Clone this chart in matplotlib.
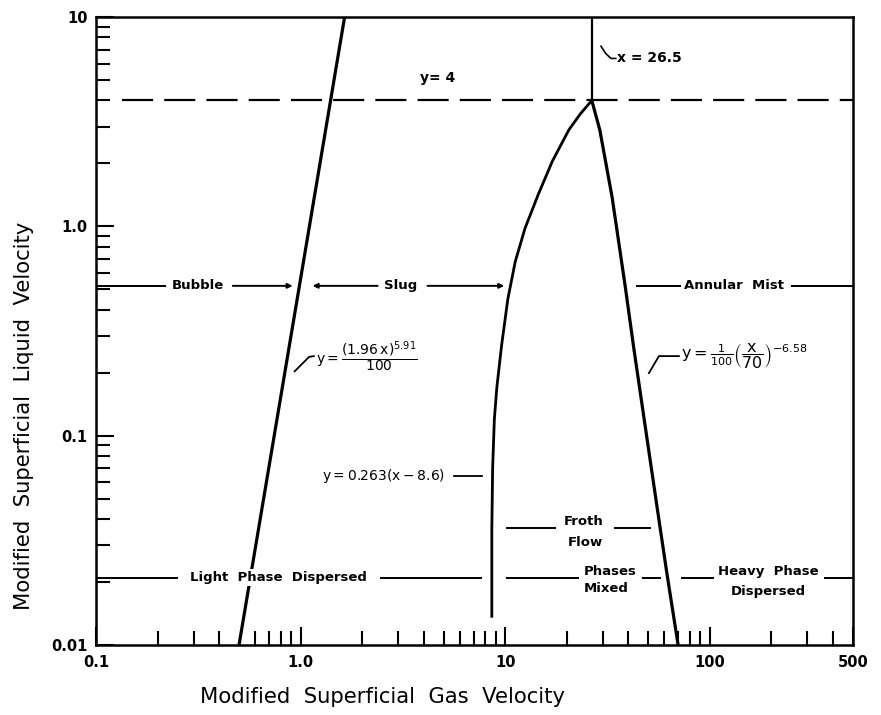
import matplotlib
matplotlib.use("Agg")
import matplotlib.pyplot as plt
from matplotlib.ticker import FixedLocator, FixedFormatter, NullFormatter

# Flow-regime boundaries (log-log coordinates)
bubble_x = [0.50, 1.64]
bubble_y = [0.01, 10.0]

froth_left_x = [8.6, 8.6, 8.68, 8.85, 9.1, 9.6, 10.3, 11.2, 12.5, 14.5, 17.0, 20.5, 23.3, 26.5]
froth_left_y = [0.0135, 0.035, 0.07, 0.12, 0.17, 0.27, 0.45, 0.68, 0.98, 1.42, 2.05, 2.9, 3.45, 4.0]

froth_right_x = [26.5, 29.0, 33.3, 38.5, 42.5, 48.8, 57.0, 62.0, 70.0]
froth_right_y = [4.0, 2.89, 1.38, 0.526, 0.262, 0.104, 0.037, 0.0213, 0.01]

x_split = 26.5          # vertical boundary above y = 4
y_top = 4.0             # dashed line
regime_y = 0.52         # Bubble / Slug / Annular Mist level
dispersed_y = 0.021     # Light / Heavy phase dispersed level
froth_y = 0.0364        # Froth Flow level

xticks = [0.1, 1.0, 10, 100, 500]
xtick_labels = ["0.1", "1.0", "10", "100", "500"]
xminor = [0.2, 0.3, 0.4, 0.6, 0.7, 0.8, 0.9, 2, 3, 4, 5, 6, 7, 8, 9,
          20, 30, 40, 50, 60, 70, 80, 90, 200, 300, 400]
yticks = [0.01, 0.1, 1.0, 10]
ytick_labels = ["0.01", "0.1", "1.0", "10"]
yminor = [m * d for d in (0.01, 0.1, 1.0) for m in range(2, 10)]

plt.rcParams["font.family"] = "DejaVu Sans"
plt.rcParams["mathtext.default"] = "regular"

fig = plt.figure(figsize=(8.81, 7.15), dpi=100)
ax = fig.add_axes([0.109, 0.098, 0.859, 0.878])
ax.set_xscale("log")
ax.set_yscale("log")
ax.set_xlim(0.1, 500)
ax.set_ylim(0.01, 10)

# boundary curves
ax.plot(bubble_x, bubble_y, color="k", lw=2.3, solid_capstyle="butt")
ax.plot(froth_left_x, froth_left_y, color="k", lw=2.0, solid_capstyle="butt")
ax.plot(froth_right_x, froth_right_y, color="k", lw=2.3, solid_capstyle="butt")
ax.plot([x_split, x_split], [y_top, 10], color="k", lw=1.6)
ax.plot([0.134, 500], [y_top, y_top], color="k", lw=1.6, ls=(0, (14, 5)))

LW = 1.4


def seg(x0, x1, y):
    ax.plot([x0, x1], [y, y], color="k", lw=LW, solid_capstyle="butt")


def arrow(x0, x1, y):
    ax.annotate("", xy=(x1, y), xytext=(x0, y),
                arrowprops=dict(arrowstyle="-|>", lw=LW, color="k",
                                mutation_scale=7, shrinkA=0, shrinkB=0))


lab = dict(fontsize=9.5, fontweight="bold", ha="center", va="center")

# upper regime line
seg(0.1, 0.219, regime_y)
arrow(0.466, 0.914, regime_y)
arrow(2.38, 1.145, regime_y)
arrow(4.17, 9.89, regime_y)
seg(43.5, 72.2, regime_y)
seg(248, 500, regime_y)
ax.text(0.313, regime_y, "Bubble", **lab)
ax.text(3.07, regime_y, "Slug", **lab)
ax.text(131.6, regime_y, "Annular  Mist", **lab)

# lower dispersed line
seg(0.1, 0.251, dispersed_y)
seg(2.43, 7.72, dispersed_y)
seg(10.1, 22.96, dispersed_y)
seg(46.6, 57.7, dispersed_y)
seg(72.2, 104.6, dispersed_y)
seg(360, 500, dispersed_y)
ax.text(0.782, dispersed_y, "Light  Phase  Dispersed", zorder=5,
        bbox=dict(facecolor="white", edgecolor="none", pad=1.5), **lab)
ax.text(32.7, 0.0225, "Phases", **lab)
ax.text(31.3, 0.0186, "Mixed", **lab)
ax.text(193, 0.0224, "Heavy  Phase", **lab)
ax.text(194, 0.018, "Dispersed", **lab)

# froth flow line
seg(10.1, 17.7, froth_y)
seg(34.0, 51.5, froth_y)
ax.text(24.3, 0.039, "Froth", **lab)
ax.text(24.7, 0.031, "Flow", **lab)

# equations and leaders
ax.text(4.66, 5.1, "y= 4", fontsize=10, fontweight="bold", ha="center", va="center")
ax.plot([29.4, 31.0, 32.9, 34.7], [7.26, 6.7, 6.35, 6.35], color="k", lw=1.2)
ax.text(35.2, 6.35, "x = 26.5", fontsize=10, fontweight="bold", ha="left", va="center")

ax.plot([0.935, 1.10, 1.16], [0.203, 0.238, 0.24], color="k", lw=1.3)
ax.text(1.184, 0.24, r"$y = \dfrac{(1.96\,x)^{5.91}}{100}$", fontsize=10,
        ha="left", va="center")

ax.text(1.266, 0.0643, r"$y = 0.263(x - 8.6)$", fontsize=10, ha="left", va="center")
ax.plot([5.64, 7.73], [0.0643, 0.0643], color="k", lw=1.3)

ax.plot([50.4, 56.4, 70.6], [0.199, 0.240, 0.240], color="k", lw=1.3)
ax.text(72.3, 0.240, r"$y = \frac{1}{100}\left(\dfrac{x}{70}\right)^{-6.58}$",
        fontsize=11.5, ha="left", va="center")

# axes styling
for s in ax.spines.values():
    s.set_linewidth(1.8)
ax.xaxis.set_major_locator(FixedLocator(xticks))
ax.xaxis.set_major_formatter(FixedFormatter(xtick_labels))
ax.xaxis.set_minor_locator(FixedLocator(xminor))
ax.xaxis.set_minor_formatter(NullFormatter())
ax.yaxis.set_major_locator(FixedLocator(yticks))
ax.yaxis.set_major_formatter(FixedFormatter(ytick_labels))
ax.yaxis.set_minor_locator(FixedLocator(yminor))
ax.yaxis.set_minor_formatter(NullFormatter())
ax.tick_params(which="both", direction="in", top=False, right=False, width=1.5)
ax.tick_params(which="major", length=13)
ax.tick_params(axis="y", which="major", pad=6)
ax.tick_params(axis="x", which="major", pad=7)
ax.tick_params(which="minor", length=10)
for t in ax.get_xticklabels() + ax.get_yticklabels():
    t.set_fontsize(10.5)
    t.set_fontweight("bold")

fig.text(383 / 881, 1 - 697 / 715, "Modified  Superficial  Gas  Velocity",
         fontsize=15.2, ha="center", va="center")
fig.text(24 / 881, 1 - 416 / 715, "Modified  Superficial  Liquid  Velocity",
         fontsize=15.2, ha="center", va="center", rotation=90)

fig.savefig("out.png", dpi=100)
